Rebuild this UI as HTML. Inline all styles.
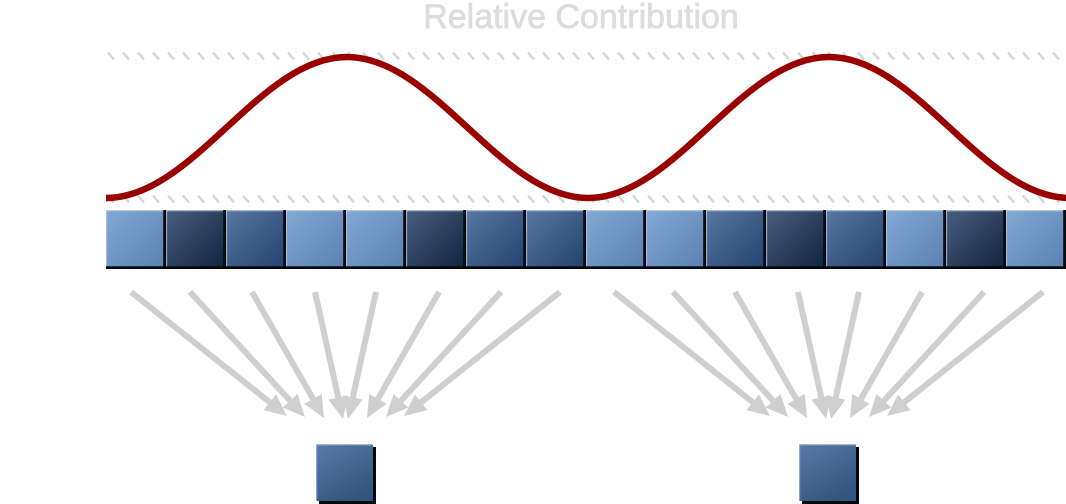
<!DOCTYPE html>
<html>
<head>
<meta charset="utf-8">
<style>
  html, body { margin: 0; padding: 0; background: #ffffff; }
  svg { display: block; }
</style>
</head>
<body>
<svg width="1066" height="504" viewBox="0 0 1066 504" xmlns="http://www.w3.org/2000/svg">
  <defs>
    <linearGradient id="gL" x1="0" y1="0" x2="1" y2="1">
      <stop offset="0" stop-color="#84a8d4"/>
      <stop offset="1" stop-color="#5a80b1"/>
    </linearGradient>
    <linearGradient id="gD" x1="0" y1="0" x2="1" y2="1">
      <stop offset="0" stop-color="#4a5f7e"/>
      <stop offset="1" stop-color="#0f223f"/>
    </linearGradient>
    <linearGradient id="gM" x1="0" y1="0" x2="1" y2="1">
      <stop offset="0" stop-color="#5877a2"/>
      <stop offset="1" stop-color="#21426d"/>
    </linearGradient>
    <linearGradient id="gO" x1="0" y1="0" x2="0.6" y2="1">
      <stop offset="0" stop-color="#5a7ba7"/>
      <stop offset="1" stop-color="#33557f"/>
    </linearGradient>
    <pattern id="hatchT" patternUnits="userSpaceOnUse" x="107" y="51" width="15" height="10">
      <line x1="1" y1="1.5" x2="7" y2="8.5" stroke="#d6d6d6" stroke-width="2.4"/>
    </pattern>
    <pattern id="hatchB" patternUnits="userSpaceOnUse" x="107" y="194" width="15" height="10">
      <line x1="1" y1="1.5" x2="7" y2="8.5" stroke="#d6d6d6" stroke-width="2.4"/>
    </pattern>
    <g id="sq">
      <rect x="0" y="0" width="60" height="59"/>
      <rect x="0" y="0" width="58" height="1.3" fill="#c3d4e8" opacity="0.75"/>
      <rect x="0" y="0" width="1.2" height="57" fill="#b4c8e2" opacity="0.7"/>
      <rect x="57.2" y="0" width="2.8" height="59" fill="#070b12"/>
      <rect x="0" y="56.3" width="60" height="2.7" fill="#04070c"/>
    </g>
    <g id="arrows">
      <g stroke="#cfcfcf" stroke-width="6" fill="none">
        <line x1="131" y1="292" x2="270.6" y2="402.9"/>
        <line x1="190" y1="292" x2="290.8" y2="401.5"/>
        <line x1="252" y1="292" x2="313.6" y2="399.8"/>
        <line x1="315" y1="292" x2="338.5" y2="398.5"/>
        <line x1="376" y1="292" x2="352.5" y2="398.5"/>
        <line x1="439" y1="292" x2="377.4" y2="399.8"/>
        <line x1="501" y1="292" x2="400.2" y2="401.5"/>
        <line x1="560" y1="292" x2="420.4" y2="402.9"/>
      </g>
      <g fill="#cfcfcf">
        <polygon points="287,416 263.56,410.14 276.0,394.48"/>
        <polygon points="305,417 282.74,407.58 297.46,394.04"/>
        <polygon points="324,418 304.41,403.86 321.77,393.94"/>
        <polygon points="343,419 328.49,399.67 348.03,395.37"/>
        <polygon points="348,419 362.51,399.67 342.97,395.37"/>
        <polygon points="367,418 386.59,403.86 369.23,393.94"/>
        <polygon points="386,417 408.26,407.58 393.54,394.04"/>
        <polygon points="404,416 427.44,410.14 415.0,394.48"/>
      </g>
    </g>
    <g id="outsq">
      <rect x="3" y="3" width="57" height="57" fill="#05080d"/>
      <rect x="0" y="0" width="57" height="57" fill="url(#gO)"/>
      <rect x="0" y="0" width="57" height="1.3" fill="#b9cce4" opacity="0.8"/>
      <rect x="0" y="0" width="1.2" height="57" fill="#a9bfdc" opacity="0.7"/>
    </g>
  </defs>

  <!-- Title -->
  <text x="581" y="28" text-anchor="middle" font-family="'Liberation Sans', sans-serif" font-size="34" fill="#dcdcdc" stroke="#dcdcdc" stroke-width="0.7">Relative Contribution</text>

  <!-- Hatched guide lines -->
  <rect x="106" y="51" width="960" height="10" fill="url(#hatchT)"/>
  <rect x="106" y="194" width="960" height="10" fill="url(#hatchB)"/>

  <!-- Curve -->
  <path d="M106,198 C193.7,198 259.3,57 347,57 C434.7,57 500.3,198 588,198 C675.7,198 741.3,57 829,57 C916.7,57 982.3,198 1070,198"
        fill="none" stroke="#990000" stroke-width="6.5"/>

  <!-- Strip of squares -->
  <g transform="translate(0,210)">
    <use href="#sq" x="106" fill="url(#gL)"/>
    <use href="#sq" x="166" fill="url(#gD)"/>
    <use href="#sq" x="226" fill="url(#gM)"/>
    <use href="#sq" x="286" fill="url(#gL)"/>
    <use href="#sq" x="346" fill="url(#gL)"/>
    <use href="#sq" x="406" fill="url(#gD)"/>
    <use href="#sq" x="466" fill="url(#gM)"/>
    <use href="#sq" x="526" fill="url(#gM)"/>
    <use href="#sq" x="586" fill="url(#gL)"/>
    <use href="#sq" x="646" fill="url(#gL)"/>
    <use href="#sq" x="706" fill="url(#gM)"/>
    <use href="#sq" x="766" fill="url(#gD)"/>
    <use href="#sq" x="826" fill="url(#gM)"/>
    <use href="#sq" x="886" fill="url(#gL)"/>
    <use href="#sq" x="946" fill="url(#gD)"/>
    <use href="#sq" x="1006" fill="url(#gL)"/>
  </g>

  <!-- Arrows -->
  <use href="#arrows"/>
  <use href="#arrows" x="483"/>

  <!-- Output squares -->
  <use href="#outsq" x="316" y="444"/>
  <use href="#outsq" x="799" y="444"/>
</svg>
</body>
</html>
